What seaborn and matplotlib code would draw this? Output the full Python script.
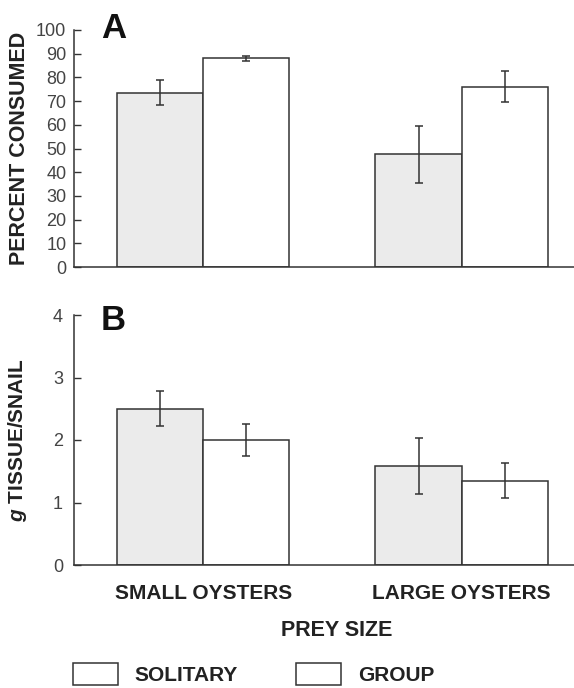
import matplotlib
matplotlib.use("Agg")
import matplotlib.pyplot as plt
import seaborn as sns
import pandas as pd
from matplotlib.patches import Patch

# ---- data ----
prey_sizes = ["SMALL OYSTERS", "LARGE OYSTERS"]
social = ["SOLITARY", "GROUP"]
pct_solitary = [73.5, 47.5]
pct_group = [88.0, 76.0]
pct_solitary_err = [5.2, 12.0]
pct_group_err = [1.0, 6.5]
tis_solitary = [2.5, 1.58]
tis_group = [2.0, 1.35]
tis_solitary_err = [0.28, 0.45]
tis_group_err = [0.26, 0.28]
pct_ticks = list(range(0, 101, 10))
tis_ticks = [0, 1, 2, 3, 4]

sns.set_theme(style="white")
plt.rcParams["font.family"] = ["Liberation Sans", "DejaVu Sans"]
plt.rcParams["mathtext.fontset"] = "custom"
plt.rcParams["mathtext.it"] = "Liberation Sans:italic:bold"
plt.rcParams["mathtext.rm"] = "Liberation Sans:bold"

EDGE = "#333333"
palette = {"SOLITARY": "#ebebeb", "GROUP": "#ffffff"}

def frame(means_s, means_g):
    return pd.DataFrame({
        "prey": prey_sizes * 2,
        "social": [social[0]] * 2 + [social[1]] * 2,
        "value": list(means_s) + list(means_g),
    })

fig = plt.figure(figsize=(5.74, 6.88), dpi=100)
axA = fig.add_axes([74 / 574, 1 - 267 / 688, 500 / 574, 237 / 688])
axB = fig.add_axes([74 / 574, 1 - 565 / 688, 500 / 574, 250 / 688])

def panel(ax, df, errs, ticks, ylim, letter, ylabel, lab_size, pad, label_x, letter_y):
    sns.barplot(data=df, x="prey", y="value", hue="social", order=prey_sizes,
                hue_order=social, palette=palette, saturation=1, width=0.667,
                errorbar=None, edgecolor=EDGE, linewidth=1.1, ax=ax, legend=False)
    for cont, err in zip(ax.containers, errs):
        xs = [p.get_x() + p.get_width() / 2 for p in cont.patches]
        ys = [p.get_height() for p in cont.patches]
        ax.errorbar(xs, ys, yerr=err, fmt="none", ecolor=EDGE, elinewidth=1.1,
                    capsize=3, capthick=1.1)
    ax.set_xlim(-0.5, 1.435)
    ax.set_ylim(*ylim)
    ax.set_yticks(ticks)
    ax.tick_params(axis="y", direction="in", length=5, width=1, color=EDGE,
                   labelsize=13, labelcolor="#444444", pad=pad, left=True)
    for s in ["top", "right"]:
        ax.spines[s].set_visible(False)
    for s in ["left", "bottom"]:
        ax.spines[s].set_color(EDGE)
        ax.spines[s].set_linewidth(1.1)
    ax.set_ylabel(ylabel, fontsize=lab_size, fontweight="bold", color="#222222")
    ax.yaxis.set_label_coords(label_x, 0.5)
    ax.text(0.054, letter_y, letter, transform=ax.transAxes, fontsize=25,
            fontweight="bold", va="baseline", ha="left", color="#111111")

panel(axA, frame(pct_solitary, pct_group), [pct_solitary_err, pct_group_err],
      pct_ticks, (0, 100), "A", "PERCENT CONSUMED", 15.5, 5.5, -0.088, 0.966)
axA.set_xticks([])
axA.set_xlabel("")

panel(axB, frame(tis_solitary, tis_group), [tis_solitary_err, tis_group_err],
      tis_ticks, (0, 4), "B", r"$g$ TISSUE/SNAIL", 15, 8, -0.090, 0.94)
axB.tick_params(axis="x", length=0, labelsize=15, pad=13.5, labelcolor="#222222")
for t in axB.get_xticklabels():
    t.set_fontweight("bold")
axB.set_xlabel("PREY SIZE", fontsize=15.5, fontweight="bold", color="#222222", va="top")
axB.xaxis.set_label_coords(0.525, -0.22)

handles = [Patch(facecolor="white", edgecolor=EDGE, linewidth=1.1, label=s) for s in social]
leg = fig.legend(handles=handles, loc="upper left", bbox_to_anchor=(73 / 574, 1 - 663 / 688),
                 ncol=2, frameon=False, borderpad=0, borderaxespad=0,
                 handlelength=2.16, handleheight=1.25, handletextpad=0.8,
                 columnspacing=2.8, prop={"size": 15, "weight": "bold"})
for t in leg.get_texts():
    t.set_color("#222222")

fig.savefig("out.png", dpi=100)
